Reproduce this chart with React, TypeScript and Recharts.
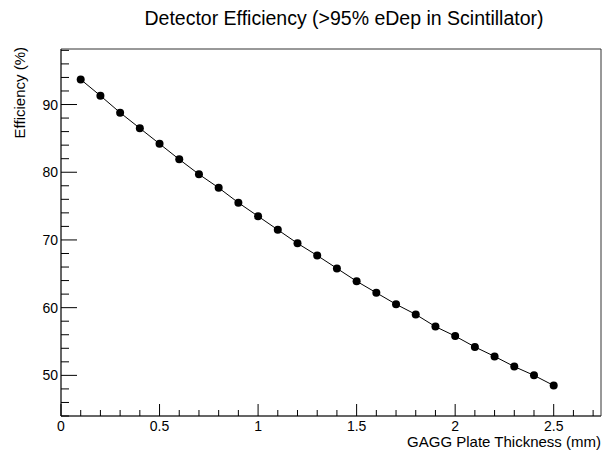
import { LineChart, Line, XAxis, YAxis, ReferenceArea } from 'recharts';

const thickness = [0.1, 0.2, 0.3, 0.4, 0.5, 0.6, 0.7, 0.8, 0.9, 1.0, 1.1, 1.2, 1.3, 1.4, 1.5, 1.6, 1.7, 1.8, 1.9, 2.0, 2.1, 2.2, 2.3, 2.4, 2.5];
const efficiency = [93.7, 91.3, 88.8, 86.5, 84.2, 81.9, 79.7, 77.7, 75.5, 73.5, 71.5, 69.5, 67.7, 65.8, 63.9, 62.2, 60.5, 59.0, 57.2, 55.8, 54.2, 52.8, 51.3, 50.0, 48.5];

const xTicks = [0, 0.1, 0.2, 0.3, 0.4, 0.5, 0.6, 0.7, 0.8, 0.9, 1, 1.1, 1.2, 1.3, 1.4, 1.5, 1.6, 1.7, 1.8, 1.9, 2, 2.1, 2.2, 2.3, 2.4, 2.5, 2.6, 2.7];
const yTicks = [44, 46, 48, 50, 52, 54, 56, 58, 60, 62, 64, 66, 68, 70, 72, 74, 76, 78, 80, 82, 84, 86, 88, 90, 92, 94, 96, 98];

const xDomain = [0, 2.74];
const yDomain = [44, 98.2];

const data = thickness.map((t, i) => ({ t, eff: efficiency[i] }));

const font = '"Liberation Sans", Arial, sans-serif';
const frame = '#333';

function XTick(props: any) {
  const { x, y, payload } = props;
  const v = payload.value;
  const major = Math.abs(v * 2 - Math.round(v * 2)) < 1e-6;
  return (
    <g>
      <line x1={x} y1={y} x2={x} y2={y - (major ? 12 : 6)} stroke="#000" />
      {major && (
        <text x={x} y={y + 15} textAnchor="middle" fontSize={14} fontFamily={font} fill="#000">
          {v}
        </text>
      )}
    </g>
  );
}

function YTick(props: any) {
  const { x, y, payload } = props;
  const v = payload.value;
  const major = v % 10 === 0;
  return (
    <g>
      <line x1={x} y1={y} x2={x + (major ? 16 : 8)} y2={y} stroke="#000" />
      {major && (
        <text x={x - 3} y={y + 5} textAnchor="end" fontSize={14} fontFamily={font} fill="#000">
          {v}
        </text>
      )}
    </g>
  );
}

export default function App() {
  return (
    <div style={{ position: 'absolute', left: 0, top: 0, background: '#fff' }}>
      <LineChart width={602} height={456} data={data} margin={{ top: 49, right: 1, left: 0, bottom: 0 }}>
        <XAxis
          dataKey="t"
          type="number"
          domain={xDomain}
          ticks={xTicks}
          interval={0}
          height={40}
          tickSize={0}
          tickMargin={0}
          tickLine={false}
          stroke={frame}
          tick={<XTick />}
          label={{
            content: () => (
              <text x={601} y={447} textAnchor="end" fontSize={15} fontFamily={font} fill="#000">
                GAGG Plate Thickness (mm)
              </text>
            ),
          }}
        />
        <YAxis
          type="number"
          domain={yDomain}
          ticks={yTicks}
          interval={0}
          width={61}
          tickSize={0}
          tickMargin={0}
          tickLine={false}
          stroke={frame}
          tick={<YTick />}
          label={{
            content: () => (
              <text x={25} y={47} transform="rotate(-90 25 47)" textAnchor="end" fontSize={15} fontFamily={font} fill="#000">
                Efficiency (%)
              </text>
            ),
          }}
        />
        <ReferenceArea
          x1={xDomain[0]}
          x2={xDomain[1]}
          y1={yDomain[0]}
          y2={yDomain[1]}
          fill="none"
          fillOpacity={0}
          stroke={frame}
          strokeWidth={1}
          label={{
            content: () => (
              <text x={344} y={25} textAnchor="middle" fontSize={19.5} fontFamily={font} fill="#000">
                Detector Efficiency (&gt;95% eDep in Scintillator)
              </text>
            ),
          }}
        />
        <Line
          dataKey="eff"
          stroke="#000"
          strokeWidth={1}
          dot={{ r: 4, fill: '#000', stroke: '#000', strokeWidth: 0 }}
          isAnimationActive={false}
        />
      </LineChart>
    </div>
  );
}
